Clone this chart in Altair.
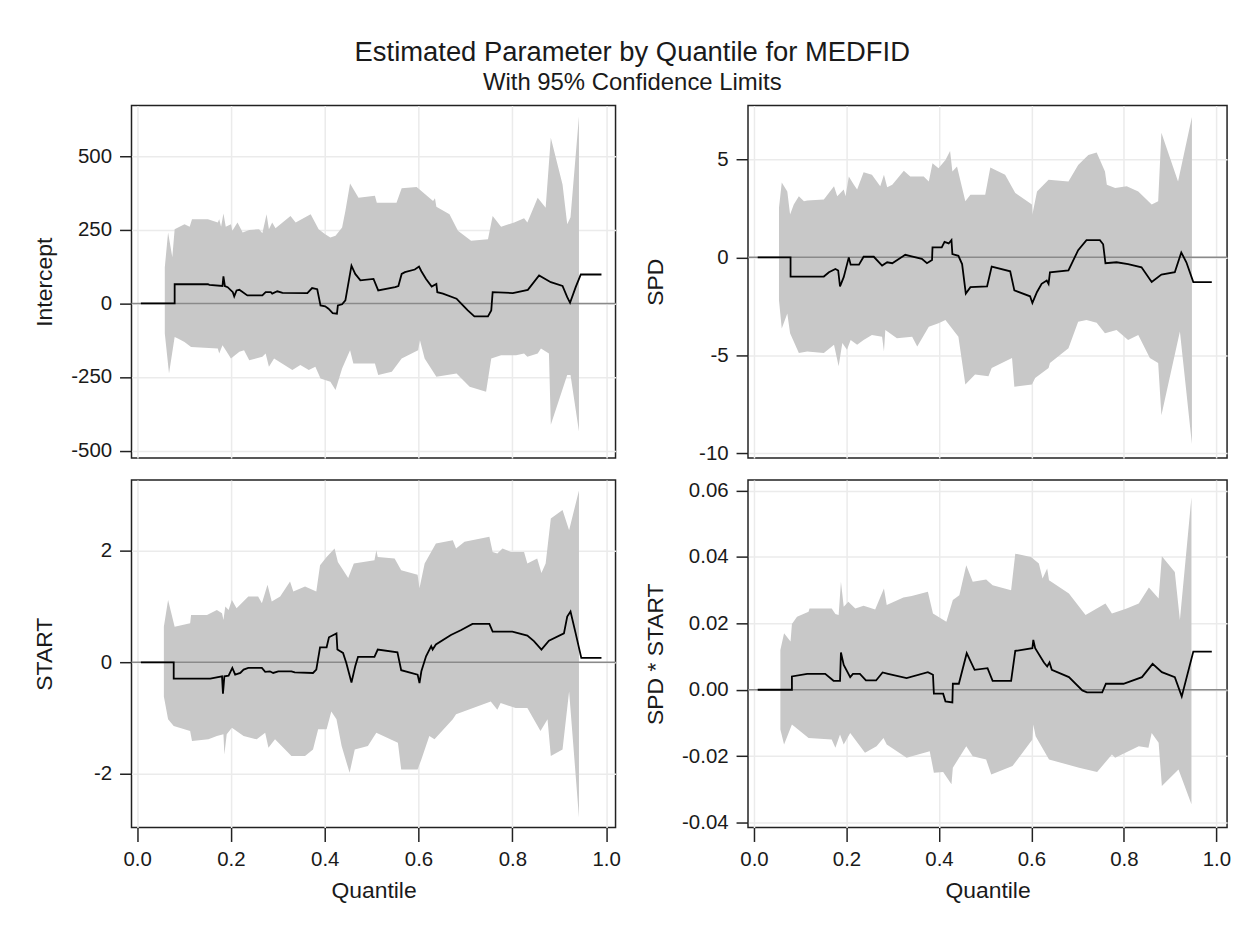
import altair as alt
import pandas as pd

FONT = "Liberation Sans"

# ---------------- Intercept ----------------
int_est_q = [0.008, 0.080, 0.080, 0.151, 0.154, 0.182, 0.184, 0.187, 0.193, 0.204, 0.207, 0.212, 0.218, 0.235, 0.267,
             0.274, 0.285, 0.288, 0.299, 0.310, 0.363, 0.373, 0.384, 0.391, 0.401, 0.408, 0.417, 0.426, 0.428, 0.437,
             0.444, 0.457, 0.465, 0.476, 0.504, 0.514, 0.550, 0.557, 0.564, 0.571, 0.592, 0.601, 0.606, 0.616, 0.628,
             0.638, 0.640, 0.652, 0.681, 0.691, 0.705, 0.719, 0.748, 0.755, 0.758, 0.801, 0.833, 0.857, 0.882, 0.907,
             0.917, 0.923, 0.935, 0.946, 0.990]
int_est_v = [0, 0, 65, 65, 63, 59, 92, 59, 55, 38, 24, 44, 46, 27, 27,
             38, 38, 33, 41, 36, 35, 52, 48, -7, -10, -18, -33, -35, -7, -3,
             10, 128, 100, 78, 83, 44, 55, 59, 100, 106, 115, 125, 109, 83, 57,
             66, 38, 33, 16, -1, -24, -44, -44, -24, 38, 35, 46, 95, 72, 59,
             21, 2, 55, 98, 98]
int_up_q = [0.059, 0.066, 0.075, 0.080, 0.101, 0.112, 0.117, 0.151, 0.172, 0.175, 0.179, 0.184, 0.189, 0.200, 0.203,
            0.214, 0.225, 0.239, 0.260, 0.267, 0.276, 0.281, 0.288, 0.295, 0.327, 0.338, 0.370, 0.387, 0.401, 0.412,
            0.423, 0.437, 0.444, 0.454, 0.472, 0.507, 0.511, 0.553, 0.564, 0.596, 0.631, 0.635, 0.638, 0.666, 0.684,
            0.712, 0.748, 0.758, 0.776, 0.804, 0.825, 0.832, 0.854, 0.871, 0.882, 0.907, 0.917, 0.924, 0.942]
int_up_v = [123, 241, 157, 252, 269, 260, 286, 286, 275, 286, 260, 305, 260, 269, 247,
            275, 241, 249, 252, 238, 303, 252, 275, 255, 297, 275, 303, 252, 235, 224,
            230, 258, 314, 407, 359, 365, 342, 342, 391, 395, 348, 357, 328, 303, 247,
            213, 218, 297, 260, 275, 289, 275, 359, 325, 562, 404, 269, 292, 635]
int_lo_q = [0.059, 0.068, 0.080, 0.087, 0.101, 0.115, 0.172, 0.175, 0.182, 0.189, 0.200, 0.218, 0.228, 0.239, 0.267,
            0.274, 0.281, 0.292, 0.331, 0.348, 0.366, 0.380, 0.391, 0.412, 0.423, 0.437, 0.454, 0.461, 0.507, 0.514,
            0.543, 0.564, 0.599, 0.603, 0.613, 0.638, 0.681, 0.709, 0.744, 0.755, 0.776, 0.808, 0.825, 0.832, 0.854,
            0.861, 0.878, 0.882, 0.917, 0.924, 0.942]
int_lo_v = [-102, -238, -114, -119, -131, -148, -153, -170, -142, -159, -187, -164, -159, -193, -181,
            -170, -215, -187, -226, -209, -226, -215, -255, -266, -294, -221, -159, -204, -204, -243,
            -232, -187, -159, -125, -187, -249, -238, -283, -300, -187, -176, -176, -170, -181, -170,
            -153, -170, -412, -243, -243, -435]

# ---------------- SPD ----------------
spd_est_q = [0.008, 0.079, 0.079, 0.151, 0.162, 0.176, 0.182, 0.186, 0.194, 0.205, 0.209, 0.227, 0.237, 0.259, 0.277,
             0.288, 0.299, 0.327, 0.363, 0.374, 0.385, 0.386, 0.406, 0.412, 0.421, 0.427, 0.429, 0.442, 0.450, 0.458,
             0.468, 0.504, 0.514, 0.554, 0.563, 0.597, 0.602, 0.612, 0.622, 0.633, 0.637, 0.640, 0.680, 0.701, 0.719,
             0.748, 0.755, 0.760, 0.784, 0.809, 0.838, 0.860, 0.881, 0.910, 0.924, 0.935, 0.950, 0.990]
spd_est_v = [0, 0, -0.98, -0.98, -0.76, -0.59, -0.67, -1.48, -1.01, 0, -0.37, -0.37, 0.03, 0.03, -0.42,
             -0.25, -0.30, 0.13, -0.08, -0.30, -0.13, 0.51, 0.51, 0.79, 0.71, 0.88, 0.17, 0.08, -0.34, -1.85,
             -1.52, -1.48, -0.47, -0.71, -1.69, -1.99, -2.33, -1.77, -1.35, -1.18, -1.35, -0.76, -0.67, 0.37, 0.88,
             0.88, 0.67, -0.30, -0.25, -0.34, -0.51, -1.26, -0.88, -0.76, 0.25, -0.25, -1.26, -1.26]
spd_up_q = [0.054, 0.060, 0.072, 0.078, 0.086, 0.097, 0.108, 0.115, 0.151, 0.173, 0.180, 0.194, 0.198, 0.205, 0.216,
            0.223, 0.237, 0.255, 0.273, 0.281, 0.288, 0.299, 0.324, 0.338, 0.367, 0.378, 0.386, 0.399, 0.414, 0.424,
            0.429, 0.439, 0.457, 0.468, 0.500, 0.511, 0.543, 0.565, 0.601, 0.602, 0.612, 0.637, 0.680, 0.701, 0.723,
            0.741, 0.759, 0.763, 0.781, 0.806, 0.831, 0.860, 0.874, 0.881, 0.917, 0.947]
spd_up_v = [2.53, 3.83, 3.37, 2.19, 2.70, 3.12, 2.87, 2.90, 2.95, 3.63, 3.12, 3.46, 3.12, 4.13, 3.71,
            3.46, 4.35, 4.22, 3.63, 4.22, 3.58, 3.71, 4.42, 4.13, 4.13, 3.88, 4.81, 4.55, 4.97, 5.43,
            4.38, 4.64, 2.87, 3.20, 3.20, 4.59, 4.22, 3.29, 2.70, 2.19, 3.37, 3.96, 3.88, 4.72, 5.23,
            5.36, 4.38, 3.71, 3.54, 3.63, 3.37, 2.70, 2.87, 6.37, 3.88, 7.17]
spd_lo_q = [0.054, 0.060, 0.072, 0.078, 0.097, 0.115, 0.151, 0.173, 0.183, 0.191, 0.201, 0.209, 0.223, 0.237, 0.255,
            0.277, 0.281, 0.284, 0.309, 0.342, 0.353, 0.378, 0.399, 0.414, 0.442, 0.457, 0.478, 0.507, 0.514, 0.558,
            0.563, 0.601, 0.608, 0.637, 0.640, 0.680, 0.701, 0.719, 0.741, 0.759, 0.784, 0.809, 0.831, 0.856, 0.874,
            0.881, 0.921, 0.947]
spd_lo_v = [-2.19, -3.63, -2.87, -3.88, -4.89, -4.81, -4.89, -4.47, -5.56, -4.38, -4.72, -4.22, -4.47, -4.22, -3.96,
            -4.05, -4.81, -3.71, -4.13, -4.05, -4.55, -3.54, -3.37, -3.20, -4.05, -6.49, -5.99, -6.07, -5.65, -5.14,
            -6.61, -6.49, -6.16, -5.65, -5.40, -4.64, -3.29, -3.20, -3.34, -3.88, -3.71, -4.22, -3.96, -5.14, -5.40,
            -8.06, -3.79, -9.53]

# ---------------- START ----------------
st_est_q = [0.008, 0.078, 0.078, 0.156, 0.181, 0.183, 0.186, 0.195, 0.203, 0.209, 0.220, 0.227, 0.237, 0.266, 0.273,
            0.283, 0.290, 0.301, 0.329, 0.336, 0.375, 0.382, 0.390, 0.404, 0.409, 0.425, 0.427, 0.439, 0.446, 0.457,
            0.465, 0.471, 0.506, 0.513, 0.555, 0.563, 0.598, 0.602, 0.606, 0.616, 0.627, 0.630, 0.637, 0.669, 0.691,
            0.715, 0.751, 0.758, 0.800, 0.832, 0.846, 0.862, 0.878, 0.910, 0.917, 0.924, 0.935, 0.947, 0.990]
st_est_v = [0, 0, -0.29, -0.29, -0.25, -0.56, -0.25, -0.24, -0.10, -0.22, -0.19, -0.13, -0.10, -0.10, -0.17,
            -0.16, -0.19, -0.16, -0.16, -0.18, -0.19, -0.13, 0.27, 0.27, 0.45, 0.52, 0.23, 0.17, -0.01, -0.36,
            -0.07, 0.10, 0.10, 0.23, 0.18, -0.14, -0.22, -0.37, -0.16, 0.11, 0.29, 0.23, 0.32, 0.49, 0.58,
            0.69, 0.69, 0.55, 0.55, 0.48, 0.38, 0.23, 0.39, 0.52, 0.82, 0.91, 0.52, 0.08, 0.08]
st_up_q = [0.057, 0.066, 0.080, 0.113, 0.115, 0.149, 0.170, 0.181, 0.184, 0.188, 0.195, 0.202, 0.212, 0.237, 0.258,
           0.266, 0.278, 0.287, 0.305, 0.326, 0.333, 0.358, 0.382, 0.390, 0.404, 0.421, 0.428, 0.450, 0.462, 0.506,
           0.510, 0.513, 0.549, 0.563, 0.598, 0.602, 0.613, 0.637, 0.673, 0.680, 0.698, 0.751, 0.758, 0.768, 0.779,
           0.797, 0.825, 0.832, 0.853, 0.862, 0.871, 0.882, 0.907, 0.921, 0.942]
st_up_v = [0.64, 1.12, 0.64, 0.70, 0.85, 0.85, 0.94, 0.88, 0.76, 1.00, 0.94, 1.12, 0.97, 1.18, 1.18,
           1.06, 1.39, 1.09, 1.18, 1.45, 1.27, 1.36, 1.27, 1.74, 1.89, 2.04, 1.80, 1.51, 1.77, 1.83,
           2.01, 1.89, 1.86, 1.65, 1.57, 1.33, 1.77, 2.13, 2.19, 2.04, 2.16, 2.25, 1.98, 1.95, 2.04,
           1.98, 1.98, 1.77, 1.86, 1.60, 1.77, 2.58, 2.73, 2.37, 3.08]
st_lo_q = [0.057, 0.066, 0.078, 0.113, 0.117, 0.152, 0.170, 0.184, 0.186, 0.191, 0.202, 0.227, 0.255, 0.273, 0.280,
           0.294, 0.329, 0.358, 0.375, 0.386, 0.404, 0.414, 0.425, 0.436, 0.453, 0.464, 0.492, 0.510, 0.556, 0.563,
           0.598, 0.606, 0.623, 0.634, 0.673, 0.680, 0.754, 0.768, 0.775, 0.807, 0.832, 0.860, 0.875, 0.882, 0.907,
           0.921, 0.942]
st_lo_v = [-0.61, -1.02, -1.14, -1.23, -1.41, -1.38, -1.32, -1.29, -1.65, -1.29, -1.17, -1.32, -1.38, -1.26, -1.53,
           -1.38, -1.68, -1.68, -1.56, -1.20, -1.20, -0.88, -1.02, -1.50, -1.98, -1.56, -1.50, -1.26, -1.44, -1.92,
           -1.92, -1.74, -1.32, -1.38, -1.02, -0.93, -0.70, -0.85, -0.73, -0.82, -0.82, -1.23, -1.02, -1.68, -1.56,
           -0.52, -2.78]

# ---------------- SPD * START ----------------
ss_est_q = [0.008, 0.082, 0.082, 0.115, 0.154, 0.172, 0.186, 0.188, 0.194, 0.208, 0.214, 0.229, 0.242, 0.264, 0.278,
            0.290, 0.330, 0.376, 0.387, 0.389, 0.409, 0.414, 0.429, 0.430, 0.443, 0.460, 0.477, 0.505, 0.516, 0.556,
            0.565, 0.602, 0.604, 0.608, 0.627, 0.634, 0.639, 0.644, 0.681, 0.710, 0.720, 0.753, 0.761, 0.799, 0.839,
            0.862, 0.882, 0.910, 0.925, 0.950, 0.990]
ss_est_v = [0, 0, 0.0040, 0.0048, 0.0048, 0.0027, 0.0027, 0.0112, 0.0075, 0.0038, 0.0048, 0.0048, 0.0028, 0.0028, 0.0052,
            0.0048, 0.0035, 0.0053, 0.0045, -0.0012, -0.0012, -0.0035, -0.0038, 0.0018, 0.0018, 0.0110, 0.0060, 0.0065,
            0.0027, 0.0027, 0.0117, 0.0125, 0.0150, 0.0125, 0.0082, 0.0070, 0.0082, 0.0060, 0.0038, -0.0002, -0.0008,
            -0.0008, 0.0018, 0.0018, 0.0038, 0.0078, 0.0053, 0.0038, -0.0020, 0.0115, 0.0115]
ss_up_q = [0.057, 0.065, 0.079, 0.082, 0.093, 0.118, 0.120, 0.168, 0.176, 0.183, 0.188, 0.194, 0.204, 0.219, 0.237,
           0.262, 0.281, 0.287, 0.323, 0.341, 0.376, 0.387, 0.416, 0.430, 0.444, 0.459, 0.473, 0.502, 0.516, 0.556,
           0.565, 0.599, 0.616, 0.624, 0.634, 0.638, 0.681, 0.717, 0.760, 0.774, 0.806, 0.832, 0.854, 0.875, 0.882,
           0.910, 0.921, 0.946]
ss_up_v = [0.0120, 0.0170, 0.0145, 0.0198, 0.0220, 0.0235, 0.0245, 0.0245, 0.0228, 0.0225, 0.0325, 0.0250, 0.0265,
           0.0245, 0.0253, 0.0242, 0.0305, 0.0255, 0.0278, 0.0282, 0.0295, 0.0230, 0.0205, 0.0270, 0.0285, 0.0375,
           0.0325, 0.0332, 0.0315, 0.0300, 0.0410, 0.0400, 0.0380, 0.0335, 0.0365, 0.0330, 0.0290, 0.0225, 0.0260,
           0.0230, 0.0245, 0.0260, 0.0308, 0.0275, 0.0402, 0.0355, 0.0210, 0.0580]
ss_lo_q = [0.057, 0.065, 0.082, 0.118, 0.168, 0.176, 0.186, 0.194, 0.208, 0.240, 0.265, 0.280, 0.287, 0.330, 0.380,
           0.389, 0.409, 0.427, 0.430, 0.459, 0.473, 0.502, 0.513, 0.559, 0.602, 0.604, 0.609, 0.638, 0.703, 0.742,
           0.774, 0.781, 0.832, 0.853, 0.860, 0.875, 0.882, 0.918, 0.946]
ss_lo_v = [-0.0120, -0.0165, -0.0105, -0.0145, -0.0150, -0.0175, -0.0135, -0.0165, -0.0130, -0.0190, -0.0170,
           -0.0145, -0.0165, -0.0205, -0.0185, -0.0250, -0.0248, -0.0285, -0.0235, -0.0170, -0.0200, -0.0210,
           -0.0255, -0.0230, -0.0150, -0.0105, -0.0140, -0.0210, -0.0235, -0.0248, -0.0195, -0.0205, -0.0170,
           -0.0175, -0.0130, -0.0160, -0.0290, -0.0240, -0.0345]

X_TICKS = [0.0, 0.2, 0.4, 0.6, 0.8, 1.0]

BAND = "#c8c8c8"
GRID = "#ebebeb"
INK = "#1a1a1a"


def panel(est_q, est_v, up_q, up_v, lo_q, lo_v, ytitle, ydom, yticks, yfmt,
          width, height, xdom, bottom, title_x):
    est = pd.DataFrame({"q": est_q, "v": est_v})
    up = pd.DataFrame({"q": up_q, "v": up_v})
    lo = pd.DataFrame({"q": lo_q, "v": lo_v})
    zero = pd.DataFrame({"v": [0]})

    if bottom:
        xaxis = alt.Axis(values=X_TICKS, format=".1f", title="Quantile", grid=True,
                         gridColor=GRID, gridWidth=1.5, tickSize=14, labelPadding=8,
                         titlePadding=10, labelFlush=False, domain=False)
    else:
        xaxis = alt.Axis(values=X_TICKS, title=None, labels=False, ticks=False, grid=True,
                         gridColor=GRID, gridWidth=1.5, domain=False)
    yaxis = alt.Axis(values=yticks, title=ytitle, grid=True, gridColor=GRID,
                     labelExpr="replace(format(datum.value, '%s'), '\u2212', '-')" % yfmt,
                     gridWidth=1.5, tickSize=12, labelPadding=8, labelFlush=False, domain=False,
                     titleAngle=270, titleAlign="center", titleBaseline="alphabetic",
                     titleX=title_x, titleY=height / 2)
    xs = alt.Scale(domain=xdom, nice=False, zero=False)
    ys = alt.Scale(domain=ydom, nice=False, zero=False)

    x_enc = alt.X("q:Q", scale=xs, axis=xaxis)
    y_enc = alt.Y("v:Q", scale=ys, axis=yaxis)

    upper = alt.Chart(up).mark_area(color=BAND, opacity=1, clip=True).encode(
        x=x_enc, y=y_enc, y2=alt.datum(0))
    lower = alt.Chart(lo).mark_area(color=BAND, opacity=1, clip=True).encode(
        x=x_enc, y=y_enc, y2=alt.datum(0))
    ref = alt.Chart(zero).mark_rule(color="#8a8a8a", strokeWidth=1.5).encode(y=y_enc)
    line = alt.Chart(est).mark_line(color="black", strokeWidth=1.8, clip=True).encode(
        x=x_enc, y=y_enc)
    return alt.layer(upper, lower, ref, line).properties(width=width, height=height)


p1 = panel(int_est_q, int_est_v, int_up_q, int_up_v, int_lo_q, int_lo_v, "Intercept",
           [-525, 672], [-500, -250, 0, 250, 500], "d", 486, 354, [-0.012, 1.02], False, -80)
p2 = panel(spd_est_q, spd_est_v, spd_up_q, spd_up_v, spd_lo_q, spd_lo_v, "SPD",
           [-10.25, 7.76], [-10, -5, 0, 5], "d", 481, 354, [-0.013, 1.023], False, -86)
p3 = panel(st_est_q, st_est_v, st_up_q, st_up_v, st_lo_q, st_lo_v, "START",
           [-2.96, 3.27], [-2, 0, 2], "d", 486, 349, [-0.012, 1.02], True, -80)
p4 = panel(ss_est_q, ss_est_v, ss_up_q, ss_up_v, ss_lo_q, ss_lo_v, "SPD * START",
           [-0.0415, 0.0632], [-0.04, -0.02, 0.0, 0.02, 0.04, 0.06], ".2f", 481, 349,
           [-0.013, 1.023], True, -86)

chart = alt.concat(p1, p2, p3, p4, columns=2, spacing={"row": 14, "column": 22}).properties(
    title=alt.TitleParams(
        text="Estimated Parameter by Quantile for MEDFID",
        subtitle="With 95% Confidence Limits",
        font=FONT, fontSize=27.5, fontWeight="normal", color=INK,
        subtitleFont=FONT, subtitleFontSize=24, subtitleColor=INK, subtitlePadding=4,
        anchor="middle", offset=10,
    ),
    padding={"left": 25, "top": 29, "right": 10, "bottom": 10},
    background="white",
).configure_view(
    stroke="#222222", strokeWidth=1.5
).configure_axis(
    labelFont=FONT, labelFontSize=20.5, labelColor=INK,
    titleFont=FONT, titleFontSize=23, titleFontWeight="normal", titleColor=INK,
    tickColor="#222222", tickWidth=1.5,
)

chart.save("out.html", embed_options={"renderer": "svg", "actions": False})
